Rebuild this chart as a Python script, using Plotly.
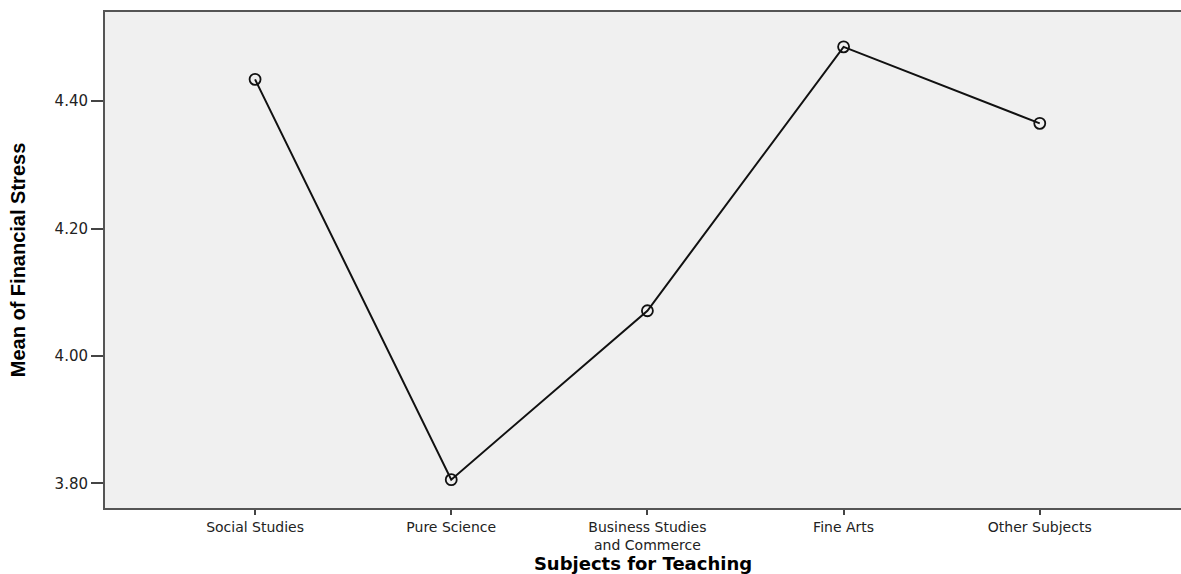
import plotly.graph_objects as go

categories = ["Social Studies", "Pure Science", "Business Studies<br>and Commerce", "Fine Arts", "Other Subjects"]
means = [4.434, 3.806, 4.071, 4.485, 4.365]
y_tickvals = [3.80, 4.00, 4.20, 4.40]
y_ticktext = ["3.80", "4.00", "4.20", "4.40"]

fig = go.Figure()
fig.add_trace(go.Scatter(
    x=categories, y=means, mode="lines+markers",
    line=dict(color="#111111", width=2),
    marker=dict(symbol="circle-open", size=11, color="#111111", line=dict(width=1.8)),
    showlegend=False, cliponaxis=False,
))

fig.update_layout(
    width=1181, height=574,
    margin=dict(l=105, r=0, t=12, b=66),
    paper_bgcolor="white", plot_bgcolor="#f0f0f0",
    font=dict(family="DejaVu Sans, Arial, sans-serif", size=13, color="#222222"),
)
fig.update_xaxes(
    type="category", range=[-0.765, 4.72],
    showgrid=False, zeroline=False,
    showline=True, linecolor="#555555", linewidth=2, mirror=True,
    ticks="outside", ticklen=5, tickwidth=2, tickcolor="#444444",
    tickfont=dict(family="DejaVu Sans, Arial, sans-serif", size=14, color="#222222"),
    title=dict(text="<b>Subjects for Teaching</b>", standoff=9,
               font=dict(family="DejaVu Sans, Arial, sans-serif", size=18, color="#000000")),
    automargin=False,
)
fig.update_yaxes(
    range=[3.7615, 4.5397],
    tickvals=y_tickvals, ticktext=y_ticktext,
    showgrid=False, zeroline=False,
    showline=True, linecolor="#555555", linewidth=2, mirror=False,
    ticks="outside", ticklen=12, tickwidth=2, tickcolor="#444444",
    tickfont=dict(family="DejaVu Sans, Arial, sans-serif", size=15, color="#222222"),
    title=dict(text="<b>Mean of Financial Stress</b>", standoff=24,
               font=dict(family="Liberation Sans Narrow, Arial Narrow, Liberation Sans, sans-serif", size=20, color="#000000")),
    automargin=False,
)

fig.write_html(
    "out.html",
    config={"displayModeBar": False},
    post_script="document.body.style.margin='0';document.body.style.overflow='hidden';",
)
